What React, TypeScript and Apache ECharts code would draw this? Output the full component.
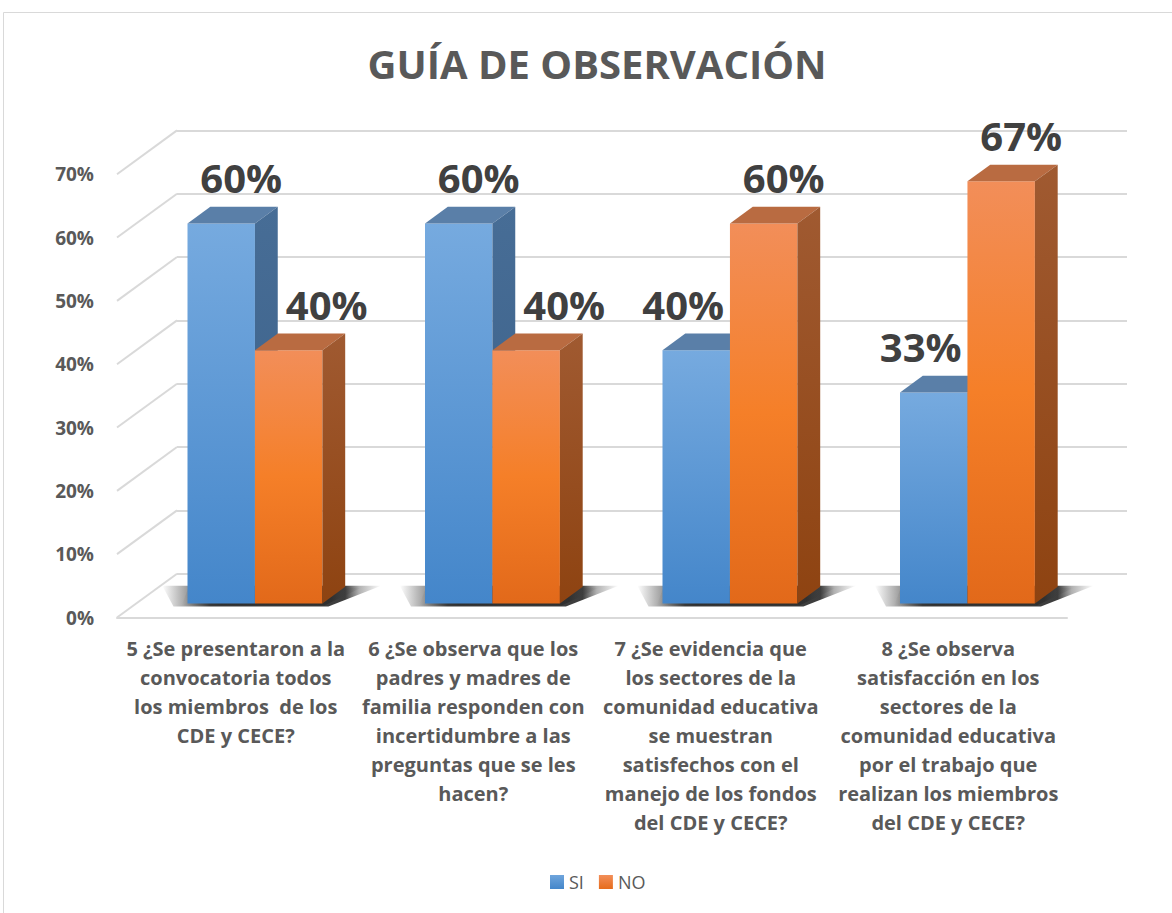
import React, { useEffect, useRef } from 'react';
import * as echarts from 'echarts';

const TITLE = 'GUÍA DE OBSERVACIÓN';
const CATEGORIES = [
  '5 ¿Se presentaron a la\nconvocatoria todos\nlos miembros  de los\nCDE y CECE?',
  '6 ¿Se observa que los\npadres y madres de\nfamilia responden con\nincertidumbre a las\npreguntas que se les\nhacen?',
  '7 ¿Se evidencia que\nlos sectores de la\ncomunidad educativa\nse muestran\nsatisfechos con el\nmanejo de los fondos\ndel CDE y CECE?',
  '8 ¿Se observa\nsatisfacción en los\nsectores de la\ncomunidad educativa\npor el trabajo que\nrealizan los miembros\ndel CDE y CECE?',
];
const SERIES_NAMES = ['SI', 'NO'];
const SI = [0.6, 0.6, 0.4, 0.3333];
const NO = [0.4, 0.4, 0.6, 0.6667];
const Y_TICKS = [0, 0.1, 0.2, 0.3, 0.4, 0.5, 0.6, 0.7];

const FONT = '"Open Sans", "Noto Sans", sans-serif';
const TEXT_GRAY = '#595959';
const GRID_GRAY = '#d9d9d9';

// 3D layout
const FRONT = { left: 117, top: 174.2, width: 950, height: 443.3 };
const DX = 60;
const DY = -43.8;
const F0 = 0.32;
const F1 = 0.7;

const lg = (stops: [number, string][]) =>
  new echarts.graphic.LinearGradient(0, 0, 0, 1, stops.map(([offset, color]) => ({ offset, color })));

const PALETTE = [
  {
    front: () => lg([[0, '#76aadf'], [1, '#4486ca']]),
    top: '#5a7fa8',
    side: () => lg([[0, '#476d96'], [1, '#3a5f87']]),
    legend: () => lg([[0, '#6fa5dc'], [1, '#4486ca']]),
  },
  {
    front: () => lg([[0, '#f28e59'], [0.5, '#f57f28'], [1, '#e2691a']]),
    top: '#b96b41',
    side: () => lg([[0, '#a05a31'], [1, '#8e4311']]),
    legend: () => lg([[0, '#f28e59'], [1, '#e66c1c']]),
  },
];

const makeBarRender = (sIdx: number) => (params: any, api: any) => {
  const i = params.dataIndex;
  const val = api.value(1);
  const top = api.coord([i, val]);
  const base = api.coord([i, 0]);
  const band = api.size([1, 0])[0];
  const bw = band * 0.284;
  const x0 = sIdx === 0 ? base[0] - bw : base[0];
  const x1 = x0 + bw;
  const bdx = DX * (F1 - F0);
  const bdy = DY * (F1 - F0);
  const yT = top[1];
  const yB = base[1];
  const pal = PALETTE[sIdx];
  const other = sIdx === 0 ? NO[i] : SI[i];
  let ldx = 20;
  if (val < other) ldx = sIdx === 0 ? -13 : 38;
  const cx = (x0 + x1) / 2 + ldx;
  return {
    type: 'group',
    children: [
      {
        type: 'rect',
        shape: { x: x0, y: yT, width: bw, height: yB - yT },
        style: { fill: pal.front() },
      },
      {
        type: 'polygon',
        shape: { points: [[x0, yT], [x1, yT], [x1 + bdx, yT + bdy], [x0 + bdx, yT + bdy]] },
        style: { fill: pal.top },
      },
      {
        type: 'polygon',
        shape: { points: [[x1, yT], [x1 + bdx, yT + bdy], [x1 + bdx, yB + bdy], [x1, yB]] },
        style: { fill: pal.side() },
      },
      {
        type: 'text',
        x: cx,
        y: yT - 46,
        style: {
          text: Math.round(val * 100) + '%',
          fill: '#404040',
          fontSize: 40,
          fontWeight: 'bold',
          fontFamily: FONT,
          align: 'center',
          verticalAlign: 'middle',
        },
      },
    ],
  };
};

const shadowRender = (params: any, api: any) => {
  const i = params.dataIndex;
  const base = api.coord([i, 0]);
  const band = api.size([1, 0])[0];
  const bw = band * 0.284;
  const x0 = base[0] - bw;
  const x1 = base[0] + bw;
  const bdx = DX * (F1 - F0);
  const bdy = DY * (F1 - F0);
  const y = base[1];
  const xs = x0 + bdx - 48;
  const xe = x1 + bdx + 36;
  const w = xe - xs;
  const fade = (x: number) => Math.max(0, Math.min(1, (x - xs) / w));
  const grad = new echarts.graphic.LinearGradient(
    0, 0, 1, 0,
    [
      { offset: 0, color: 'rgba(60,60,60,0)' },
      { offset: fade(x0 - 8), color: 'rgba(60,60,60,0.35)' },
      { offset: fade(x0 + bdx), color: 'rgba(40,40,40,0.9)' },
      { offset: fade(x1 + bdx), color: 'rgba(40,40,40,0.9)' },
      { offset: fade(x1 + bdx + 14), color: 'rgba(60,60,60,0.4)' },
      { offset: 1, color: 'rgba(60,60,60,0)' },
    ]
  );
  return {
    type: 'group',
    children: [
      {
        type: 'polygon',
        shape: {
          points: [
            [x0 - 14, y + 3],
            [x1 + 6, y + 3],
            [xe, y + bdy - 1],
            [xs, y + bdy - 1],
          ],
        },
        style: { fill: grad },
      },
      {
        type: 'polygon',
        shape: {
          points: [
            [x0 - 6, y + 2],
            [x1 + 2, y + 2],
            [x1 + bdx + 16, y + bdy + 1],
            [x0 + bdx - 22, y + bdy + 1],
          ],
        },
        style: { fill: grad, opacity: 0.7 },
      },
    ],
  };
};

const wallRender = (params: any, api: any) => {
  const v = api.value(1);
  const y = api.coord([0, v])[1];
  const x = params.coordSys.x;
  return {
    type: 'line',
    shape: { x1: x, y1: y, x2: x + DX, y2: y + DY },
    style: { stroke: GRID_GRAY, lineWidth: 2 },
  };
};

export default function App() {
  const ref = useRef<HTMLDivElement>(null);
  useEffect(() => {
    if (!ref.current) return;
    const chart = echarts.init(ref.current, undefined, { renderer: 'svg' });
    const pct = (v: number) => Math.round(v * 100) + '%';
    const gridFront = { ...FRONT };
    const gridBack = { ...FRONT, left: FRONT.left + DX, top: FRONT.top + DY };
    const gridBar = { ...FRONT, left: FRONT.left + DX * F0, top: FRONT.top + DY * F0 };
    const valueAxis = { type: 'value', min: 0, max: 0.7, interval: 0.1 };
    chart.setOption({
      animation: false,
      backgroundColor: '#ffffff',
      graphic: [
        {
          type: 'rect',
          shape: { x: 3.5, y: 12.5, width: 1300, height: 1000 },
          style: { fill: 'none', stroke: GRID_GRAY, lineWidth: 1 },
          silent: true,
        },
        {
          type: 'text',
          x: 597,
          y: 63,
          style: {
            text: TITLE,
            fill: TEXT_GRAY,
            fontSize: 40,
            fontWeight: 'bold',
            fontFamily: FONT,
            align: 'center',
            verticalAlign: 'middle',
          },
        },
      ],
      legend: {
        left: 545,
        top: 868,
        itemWidth: 14,
        itemHeight: 14,
        itemGap: 15,
        icon: 'rect',
        textStyle: { color: TEXT_GRAY, fontSize: 18, fontFamily: FONT },
        data: SERIES_NAMES.map((n, k) => ({ name: n, itemStyle: { color: PALETTE[k].legend() } })),
      },
      grid: [gridFront, gridBack, gridBar],
      xAxis: [
        {
          type: 'category',
          gridIndex: 0,
          data: CATEGORIES,
          axisLine: { show: true, lineStyle: { color: GRID_GRAY, width: 2 } },
          axisTick: { show: false },
          axisLabel: {
            interval: 0,
            color: TEXT_GRAY,
            fontSize: 20,
            fontWeight: 'bold',
            fontFamily: FONT,
            lineHeight: 29,
            margin: 16,
          },
        },
        { type: 'category', gridIndex: 1, data: CATEGORIES, show: false },
        { type: 'category', gridIndex: 2, data: CATEGORIES, show: false },
      ],
      yAxis: [
        {
          ...valueAxis,
          gridIndex: 0,
          axisLine: { show: false },
          axisTick: { show: false },
          splitLine: { show: false },
          axisLabel: {
            formatter: pct,
            color: TEXT_GRAY,
            fontSize: 19,
            fontWeight: 'bold',
            fontFamily: FONT,
            margin: 23,
          },
        },
        {
          ...valueAxis,
          gridIndex: 1,
          axisLine: { show: false },
          axisTick: { show: false },
          axisLabel: { show: false },
          splitLine: { show: true, lineStyle: { color: GRID_GRAY, width: 2 } },
        },
        { ...valueAxis, gridIndex: 2, show: false, splitLine: { show: false } },
      ],
      series: [
        {
          type: 'custom',
          name: 'walls',
          xAxisIndex: 0,
          yAxisIndex: 0,
          z: 1,
          silent: true,
          renderItem: wallRender,
          data: Y_TICKS.map((v) => [0, v]),
        },
        {
          type: 'custom',
          name: 'shadow',
          xAxisIndex: 2,
          yAxisIndex: 2,
          z: 2,
          silent: true,
          renderItem: shadowRender,
          data: CATEGORIES.map((_, i) => [i, 0]),
        },
        ...[SI, NO].map((vals, k) => ({
          type: 'custom',
          name: SERIES_NAMES[k],
          xAxisIndex: 2,
          yAxisIndex: 2,
          z: 3 + k,
          itemStyle: { color: PALETTE[k].legend() },
          renderItem: makeBarRender(k),
          data: vals.map((v, i) => [i, v]),
        })),
      ],
    });
    return () => chart.dispose();
  }, []);
  return (
    <div
      ref={ref}
      style={{ position: 'absolute', left: 0, top: 0, width: 1172, height: 913 }}
    />
  );
}
